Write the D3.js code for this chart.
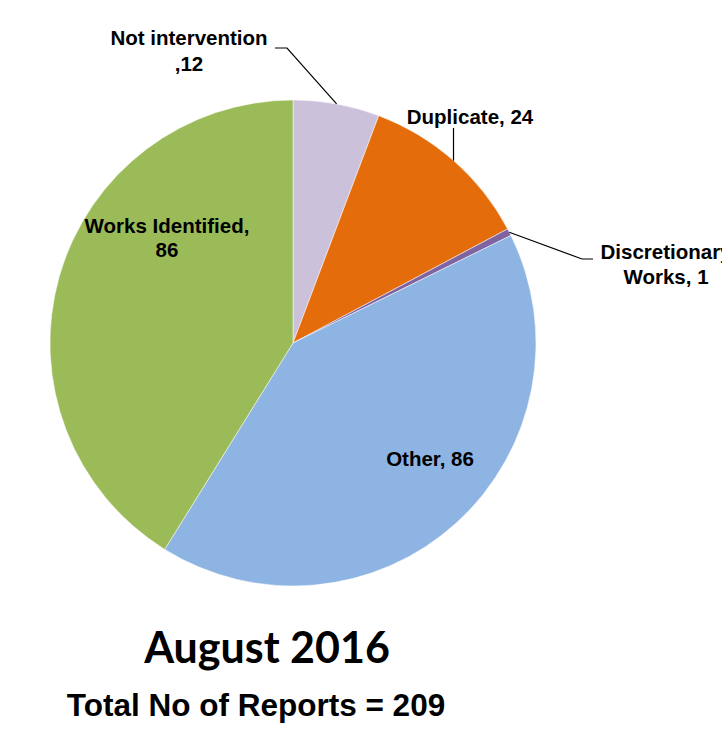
<!DOCTYPE html>
<html><head><meta charset="utf-8">
<script src="https://cdn.jsdelivr.net/npm/d3@7"></script>
<style>html,body{margin:0;padding:0;background:#fff;overflow:hidden}</style>
</head><body>
<svg id="c" width="722" height="729"></svg>
<script>
const categories = ["Not intervention", "Duplicate", "Discretionary Works", "Other", "Works Identified"];
const values = [12, 24, 1, 86, 86];
const labelLines = [["Not intervention", ",12"], ["Duplicate, 24"], ["Discretionary", "Works, 1"], ["Other, 86"], ["Works Identified,", "86"]];
const colors = ["#CCC1DA", "#E46C0A", "#8064A2", "#8EB4E3", "#9BBB59"];
const title = "August 2016";
const subtitle = "Total No of Reports = 209";

const svg = d3.select("#c");
const cx = 293, cy = 343, R = 243;
const g = svg.append("g").attr("transform", `translate(${cx},${cy})`);
const pie = d3.pie().sort(null).value(d => d)(values);
const arc = d3.arc().innerRadius(0).outerRadius(R);
g.selectAll("path").data(pie).enter().append("path")
  .attr("d", arc).attr("fill", (d, i) => colors[i])
  .attr("stroke", "#fff").attr("stroke-width", 0.5);

// label layout (text positions relative to chart)
const layout = [
  {x: 189, y: 45, lh: 26, line: (p) => [[275, 48], [287, 48], p]},
  {x: 470, y: 124, lh: 0, line: (p) => [[p[0], 128], p]},
  {x: 666, y: 259, lh: 25, line: (p) => [p, [582, 259], [593, 259]]},
  {x: 430, y: 466, lh: 0, line: null},
  {x: 167, y: 233, lh: 24, line: null}
];
const edge = d3.arc().innerRadius(R).outerRadius(R);
pie.forEach((d, i) => {
  const L = layout[i];
  if (L.line) {
    const c = edge.centroid(d);
    const p = [c[0] + cx, c[1] + cy];
    svg.append("path").attr("d", d3.line()(L.line(p)))
      .attr("fill", "none").attr("stroke", "#000").attr("stroke-width", 1.2);
  }
  const t = svg.append("text").attr("text-anchor", "middle")
    .attr("font-family", "Liberation Sans, Arial, sans-serif")
    .attr("font-weight", "bold").attr("font-size", 20.5).attr("fill", "#000");
  labelLines[i].forEach((s, k) => {
    t.append("tspan").attr("x", L.x).attr("y", L.y + k * L.lh).text(s);
  });
});

svg.append("text").attr("x", 267).attr("y", 663).attr("text-anchor", "middle")
  .attr("font-family", "Lato, Carlito, sans-serif").attr("font-weight", "bold")
  .attr("font-size", 43).text(title);
svg.append("text").attr("x", 256).attr("y", 716).attr("text-anchor", "middle")
  .attr("font-family", "Liberation Sans, Arial, sans-serif").attr("font-weight", "bold")
  .attr("font-size", 31.5).text(subtitle);
</script>
</body></html>
